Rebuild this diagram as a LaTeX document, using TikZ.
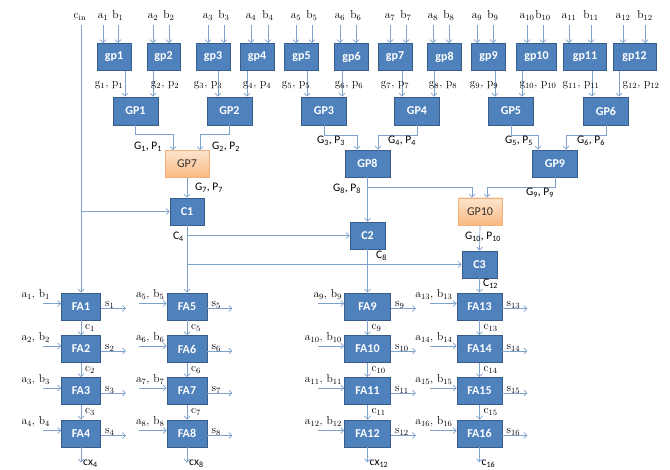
\documentclass[tikz,border=0pt]{standalone}
\usepackage{fontspec}
\newfontfamily\carl{Carlito}
\usetikzlibrary{arrows.meta,calc}
\definecolor{boxfill}{RGB}{79,129,189}
\definecolor{boxline}{RGB}{56,93,138}
\definecolor{otop}{RGB}{253,228,205}
\definecolor{obot}{RGB}{250,185,130}
\definecolor{oline}{RGB}{245,175,120}
\definecolor{wire}{RGB}{126,162,206}
\begin{document}
\begin{tikzpicture}[x=1pt,y=-1pt,
 box/.style={draw=boxline, fill=boxfill, line width=0.9pt, text=white, font=\carl\bfseries\fontsize{12}{14}\selectfont, inner sep=0pt, minimum height=27pt},
 obox/.style={draw=oline, top color=otop, bottom color=obot, line width=0.7pt, text=black!80, font=\carl\fontsize{12}{14}\selectfont, inner sep=0pt, minimum height=27pt, minimum width=44pt},
 wireto/.style={draw=wire, line width=0.7pt, -{Straight Barb[length=3pt,width=6pt]}},
 rlab/.style={font=\fontsize{11.5}{13}\selectfont, inner sep=0pt, text=black},
 slab/.style={font=\carl\fontsize{11.5}{13}\selectfont, inner sep=0pt, text=black},
]
\fill[white] (0,0) rectangle (670,470);
\useasboundingbox (0,0) rectangle (670,470);

% second level
\foreach \i/\cx in {1/135.5,2/229.5,3/324,4/417,5/511,6/606}
  \node[box, minimum width=45pt, minimum height=28pt] (GP\i) at (\cx,111) {GP\i};

% first level
\foreach \i/\cx/\w/\ax/\bx/\ox/\gx in {
1/114/34/103/118/125/109,
2/163.5/33/153/169/153/165,
3/213/34/208/224/218/208,
4/257/34/251/268/247/257,
5/301.5/34/296/312/307/296,
6/351.5/34/340/356/342/349,
7/395/34/390/406/402/395,
8/444.5/34/433/449/434/443,
9/488.5/34/477/493/495/484,
10/536.5/40/527/543/522/538,
11/585/43/569/591/592/581,
12/634.5/43/623/645/619/641}
{
 \pgfmathtruncatemacro\k{(\i+1)/2}
 \node[box, minimum width=\w pt] (gp\i) at (\cx,57) {gp\i};
 \node[rlab, anchor=base] (la\i) at (\ax,19) {a\textsubscript{\i}};
 \node[rlab, anchor=base] (lb\i) at (\bx,19) {b\textsubscript{\i}};
 \coordinate (ta\i) at (\ax,25);
 \coordinate (tb\i) at (\bx,25);
 \draw[wireto] (ta\i) -- (ta\i |- gp\i.north);
 \draw[wireto] (tb\i) -- (tb\i |- gp\i.north);
 \coordinate (o\i) at (\ox,0);
 \draw[wireto] (gp\i.south -| o\i) -- (GP\k.north -| o\i);
 \node[rlab, anchor=base] (lg\i) at (\gx,87) {g\textsubscript{\i}, p\textsubscript{\i}};
}

% third level
\node[obox] (GP7) at (187,164) {GP7};
\node[box, minimum width=45pt] (GP8) at (367.5,163.5) {GP8};
\node[box, minimum width=45pt] (GP9) at (555,163.5) {GP9};
\node[obox] (GP10) at (480,211.5) {GP10};
\node[box, minimum width=34pt] (C1) at (187,211.5) {C1};
\node[box, minimum width=35pt] (C2) at (367.5,235.5) {C2};
\node[box, minimum width=35pt] (C3) at (479.5,264.5) {C3};

\coordinate (r1) at (0,134);
\coordinate (r2) at (0,135);
\coordinate (r3) at (0,187);
\draw[wireto] (GP1.south) |- ([xshift=-14pt]GP7.north |- r1) -- ([xshift=-14pt]GP7.north);
\draw[wireto] (GP2.south) |- ([xshift=13pt]GP7.north |- r1) -- ([xshift=13pt]GP7.north);
\draw[wireto] (GP3.south) |- ([xshift=-10.5pt]GP8.north |- r2) -- ([xshift=-10.5pt]GP8.north);
\draw[wireto] (GP4.south) |- ([xshift=10.5pt]GP8.north |- r2) -- ([xshift=10.5pt]GP8.north);
\draw[wireto] (GP5.south) |- ([xshift=-17pt]GP9.north |- r2) -- ([xshift=-17pt]GP9.north);
\draw[wireto] (GP6.south) |- ([xshift=11pt]GP9.north |- r2) -- ([xshift=11pt]GP9.north);
\draw[wireto] (GP7.south) -- (C1.north);
\draw[wireto] (GP8.south) -- (C2.north);
\draw[wireto] (GP8.south |- r3) -| ([xshift=-8pt]GP10.north);
\draw[wireto] (GP9.south) -- (GP9.south |- r3) -| ([xshift=7pt]GP10.north);
\draw[wireto] (GP10.south) -- (C3.north);

\node[slab] (lG1) at (148,147) {G\textsubscript{1}, P\textsubscript{1}};
\node[slab] (lG2) at (226,147) {G\textsubscript{2}, P\textsubscript{2}};
\node[slab] (lG3) at (331,141) {G\textsubscript{3}, P\textsubscript{3}};
\node[slab] (lG4) at (402,141) {G\textsubscript{4}, P\textsubscript{4}};
\node[slab] (lG5) at (519,141) {G\textsubscript{5}, P\textsubscript{5}};
\node[slab] (lG6) at (591,141) {G\textsubscript{6}, P\textsubscript{6}};
\node[slab] (lG7) at (209,188) {G\textsubscript{7}, P\textsubscript{7}};
\node[slab] (lG8) at (347,189) {G\textsubscript{8}, P\textsubscript{8}};
\node[slab] (lG9) at (540,193) {G\textsubscript{9}, P\textsubscript{9}};
\node[slab] (lG10) at (483,237) {G\textsubscript{10}, P\textsubscript{10}};

% FA array
\foreach \col/\xx/\w/\inl/\lx in {1/81/39/18/-11, 2/187/40/28/-2, 3/367.5/46/26/-2, 4/479.5/45/27/-4}{
 \foreach \row/\yy in {1/306.5,2/349,3/391,4/433.5}{
   \pgfmathtruncatemacro\n{4*(\col-1)+\row}
   \node[box, minimum width=\w pt] (FA\n) at (\xx,\yy) {FA\n};
   \coordinate (in\n) at ([xshift=-\inl pt, yshift=3pt]FA\n.west);
   \draw[wireto] (in\n) -- ([yshift=3pt]FA\n.west);
   \node[rlab, anchor=base east] (lab\n) at ([xshift=\lx pt, yshift=8.5pt]FA\n.west) {a\textsubscript{\n}, b\textsubscript{\n}};
   \coordinate (out\n) at ([xshift=25pt, yshift=-2pt]FA\n.east);
   \draw[wireto] ([yshift=-2pt]FA\n.east) -- (out\n);
   \node[rlab, anchor=base west] (s\n) at ([xshift=4pt, yshift=-0.5pt]FA\n.east) {s\textsubscript{\n}};
 }
}
\foreach \n/\m in {1/2,2/3,3/4,5/6,6/7,7/8,9/10,10/11,11/12,13/14,14/15,15/16}{
  \draw[wireto] (FA\n.south) -- (FA\m.north);
  \node[rlab, anchor=west] (lc\n) at ([xshift=4pt]$(FA\n.south)!0.5!(FA\m.north)$) {c\textsubscript{\n}};
}
\foreach \n/\t in {4/cx\textsubscript{4}, 8/cx\textsubscript{8}, 12/cx\textsubscript{12}, 16/c\textsubscript{16}}{
  \coordinate (e\n) at ([yshift=-15pt]FA\n.south);
  \draw[wireto] (FA\n.south) -- (e\n);
  \node[slab, anchor=west] (le\n) at ([xshift=2pt,yshift=-1pt]e\n) {\t};
}

% carry-in and carry network
\node[rlab, anchor=base] (cin) at (80,19) {c\textsubscript{in}};
\coordinate (tcin) at (81,25);
\draw[wireto] (tcin) -- (FA1.north);
\draw[wireto] (tcin |- C1.west) -- (C1.west);
\draw[wireto] (C1.south) -- (FA5.north);
\draw[wireto] (C1.south |- C2.west) -- (C2.west);
\draw[wireto] (C1.south |- C3.west) -- (C3.west);
\draw[wireto] (C2.south) -- (FA9.north);
\draw[wireto] (C3.south) -- (FA13.north);
\node[slab, anchor=east] (lC4) at (184,237) {C\textsubscript{4}};
\node[slab, anchor=west] (lC8) at (376,256) {C\textsubscript{8}};
\node[slab, anchor=west] (lC12) at (483,284) {C\textsubscript{12}};
\end{tikzpicture}
\end{document}
